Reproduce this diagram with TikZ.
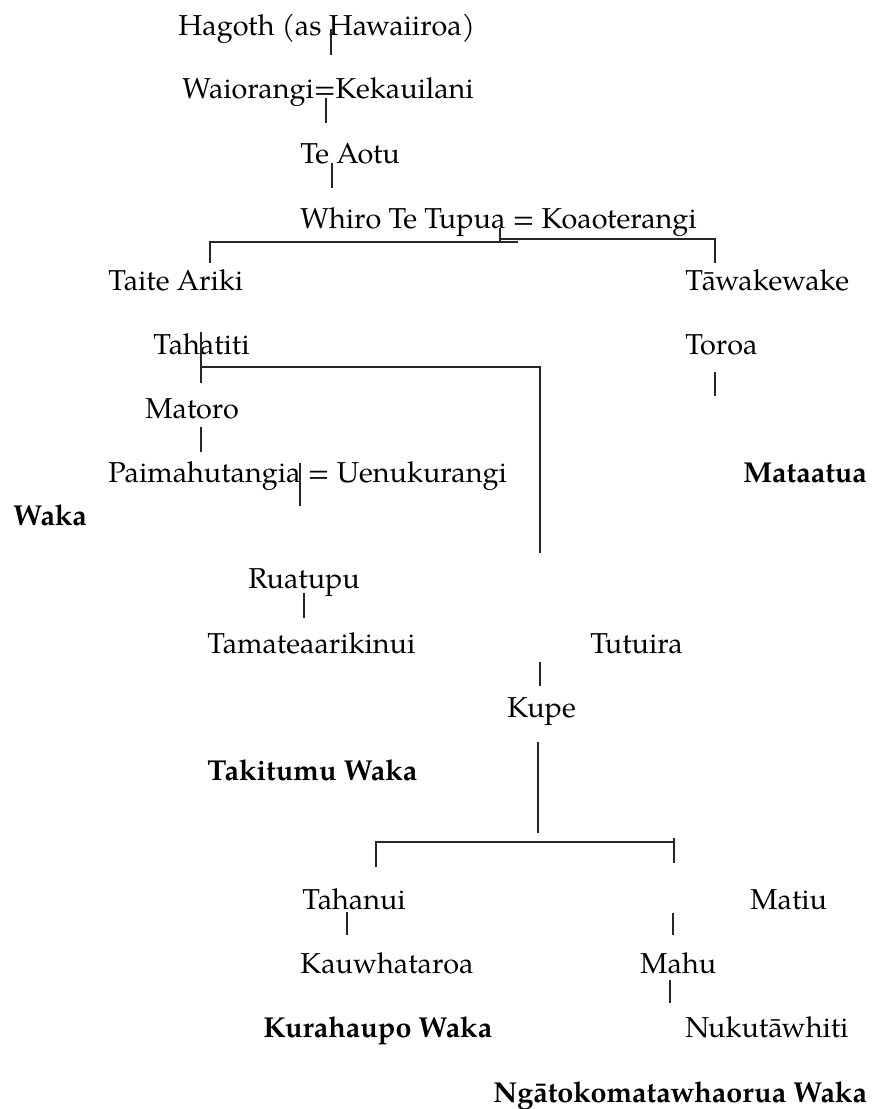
\documentclass[tikz,border=0pt]{standalone}
\usepackage{fontspec}
\setmainfont{texgyrepagella-regular.otf}[BoldFont=texgyrepagella-bold.otf]
\tikzset{
  person/.style={anchor=base west, inner sep=0pt, font=\fontsize{14.4}{18}\selectfont},
  wakalabel/.style={person, font=\fontsize{14.4}{18}\selectfont\bfseries},
  kin/.style={line width=0.6pt, black!85}
}
\begin{document}
\begin{tikzpicture}[x=0.5pt, y=-0.5pt]
        \useasboundingbox (0,0) rectangle (873,1109);

        % people
        \node [person] (hagoth) at (178,35) {Hagoth (as Hawaiiroa)};
        \node [person] (waiorangi) at (182,98) {Waiorangi=Kekauilani};
        \node [person] (teaotu) at (300,163) {Te Aotu};
        \node [person] (whiro) at (300,228) {Whiro Te Tupua = Koaoterangi};
        \node [person] (taite) at (108,290) {Taite Ariki};
        \node [person] (tawake) at (685,290) {T\=awakewake};
        \node [person] (tahatiti) at (153,354) {Tahatiti};
        \node [person] (toroa) at (685,354) {Toroa};
        \node [person] (matoro) at (145,418) {Matoro};
        \node [person] (paima) at (108,482) {Paimahutangia = Uenukurangi};
        \node [person] (ruatupu) at (248,588) {Ruatupu};
        \node [person] (tamatea) at (207,653) {Tamateaarikinui};
        \node [person] (tutuira) at (590,653) {Tutuira};
        \node [person] (kupe) at (507,717) {Kupe};
        \node [person] (tahanui) at (302,909) {Tahanui};
        \node [person] (matiu) at (750,909) {Matiu};
        \node [person] (kauwha) at (300,973) {Kauwhataroa};
        \node [person] (mahu) at (640,973) {Mahu};
        \node [person] (nukuta) at (685,1037) {Nukut\=awhiti};

        % waka
        \node [wakalabel] (mataatua) at (743,482) {Mataatua};
        \node [wakalabel] (waka) at (13,525) {Waka};
        \node [wakalabel] (takitumu) at (207,780) {Takitumu Waka};
        \node [wakalabel] (kurahaupo) at (263,1037) {Kurahaupo Waka};
        \node [wakalabel] (ngatoko) at (493,1102) {Ng\=atokomatawhaorua Waka};

        % line ends
        \coordinate (h1) at (331,29);   \coordinate (h2) at (331,55);
        \coordinate (w1) at (326,98);   \coordinate (w2) at (326,123);
        \coordinate (t1) at (332,163);  \coordinate (t2) at (332,188);
        \coordinate (wh1) at (500,228); \coordinate (wh2) at (500,242);
        \coordinate (wl) at (210,242);  \coordinate (wm) at (518,242);
        \coordinate (wn) at (500,239);  \coordinate (wr) at (715,239);
        \coordinate (ta) at (210,263);  \coordinate (tw) at (715,263);
        \coordinate (th1) at (201,332); \coordinate (th2) at (201,383);
        \coordinate (th3) at (201,367); \coordinate (th4) at (540,367);
        \coordinate (th5) at (540,553);
        \coordinate (to1) at (715,372); \coordinate (to2) at (715,396);
        \coordinate (m1) at (201,427);  \coordinate (m2) at (201,452);
        \coordinate (p1) at (300,463);  \coordinate (p2) at (300,506);
        \coordinate (r1) at (304,593);  \coordinate (r2) at (304,618);
        \coordinate (k1) at (540,662);  \coordinate (k2) at (540,686);
        \coordinate (k3) at (538,742);  \coordinate (k4) at (538,833);
        \coordinate (b1) at (376,842);  \coordinate (b2) at (674,842);
        \coordinate (b3) at (376,867);  \coordinate (b4) at (674,838);
        \coordinate (b5) at (674,863);
        \coordinate (n1) at (347,912);  \coordinate (n2) at (347,935);
        \coordinate (n3) at (673,913);  \coordinate (n4) at (673,935);
        \coordinate (n5) at (670,980);  \coordinate (n6) at (670,1003);

        % descent lines
        \draw [kin] (h1) -- (h2);
        \draw [kin] (w1) -- (w2);
        \draw [kin] (t1) -- (t2);
        \draw [kin] (wh1) -- (wh2);
        \draw [kin] (ta) -- (wl) -- (wm);
        \draw [kin] (wn) -- (wr) -- (tw);
        \draw [kin] (th1) -- (th2);
        \draw [kin] (th3) -- (th4) -- (th5);
        \draw [kin] (to1) -- (to2);
        \draw [kin] (m1) -- (m2);
        \draw [kin] (p1) -- (p2);
        \draw [kin] (r1) -- (r2);
        \draw [kin] (k1) -- (k2);
        \draw [kin] (k3) -- (k4);
        \draw [kin] (b3) -- (b1) -- (b2);
        \draw [kin] (b4) -- (b5);
        \draw [kin] (n1) -- (n2);
        \draw [kin] (n3) -- (n4);
        \draw [kin] (n5) -- (n6);
      \end{tikzpicture}
\end{document}
